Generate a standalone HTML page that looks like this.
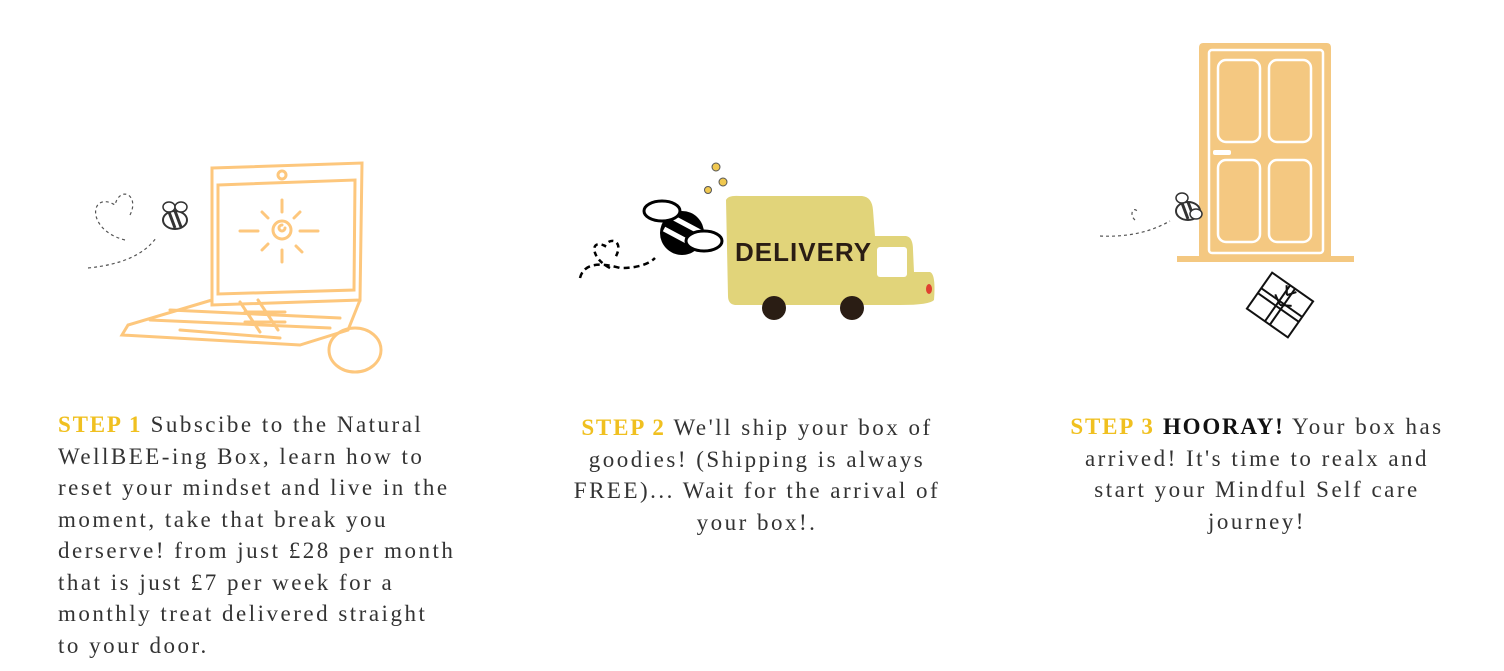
<!DOCTYPE html>
<html><head><meta charset="utf-8"><style>
body{margin:0;width:1504px;height:671px;background:#fff;position:relative;overflow:hidden;font-family:"Liberation Serif",serif;color:#333;}
.t{position:absolute;font-size:23px;line-height:31.5px;letter-spacing:2.5px;white-space:nowrap;}
.s{color:#f0c020;font-weight:bold;letter-spacing:1.8px;}
svg{position:absolute;left:0;top:0}
</style></head><body>
<svg width="1504" height="671" viewBox="0 0 1504 671">
<!-- laptop -->
<g fill="none" stroke="#fdc77d" stroke-width="3" stroke-linecap="round">
<path d="M212 168 L362 163 L360 300 L212 305 Z"/>
<path d="M218 185 L355 180 L354 290 L218 294 Z"/>
<circle cx="282" cy="175" r="4"/>
<circle cx="282" cy="230" r="9"/><path d="M285 228 a3 3 0 1 1 -3 -3"/>
<path d="M240 231 h18 M300 231 h18 M282 200 v12 M282 250 v12 M262 212 l6 6 M296 246 l6 6 M300 212 l-6 6 M262 250 l6 -6"/>
<path d="M212 300 L128 325 L122 335 L300 345 L348 330 L360 300"/>
<path d="M150 320 L330 328 M170 310 L340 318 M180 330 L280 338 M240 302 l20 30 M258 300 l20 30 M245 312 l40 0 M245 322 l40 0"/>
<ellipse cx="355" cy="350" rx="26" ry="22"/>
</g>
<path d="M88 268 q50 -5 68 -30" fill="none" stroke="#555" stroke-width="1.2" stroke-dasharray="3 3"/>
<path d="M125 240 c-40 -10 -35 -50 -10 -35 c5 -20 25 -10 15 10" fill="none" stroke="#555" stroke-width="1.2" stroke-dasharray="3 3"/>
<g transform="translate(175 215)"><ellipse cx="0" cy="5" rx="12" ry="9" fill="#fff" stroke="#333" stroke-width="2"/><path d="M-6 -3 l6 16 M0 -4 l6 16" stroke="#333" stroke-width="3"/><ellipse cx="-6" cy="-8" rx="6" ry="5" fill="#fff" stroke="#333" stroke-width="1.5"/><ellipse cx="6" cy="-8" rx="6" ry="5" fill="#fff" stroke="#333" stroke-width="1.5"/></g>
<!-- truck -->
<path d="M726 200 Q728 195 740 196 L862 196 Q872 197 873 210 L875 236 L906 236 Q913 237 913 250 L914 272 L930 272 Q936 274 934 300 Q930 305 900 305 L735 305 Q728 304 728 296 Z" fill="#e1d47a"/>
<rect x="877" y="247" width="30" height="30" rx="3" fill="#fff"/>
<ellipse cx="929" cy="289" rx="3" ry="5" fill="#e04030"/>
<circle cx="774" cy="308" r="12" fill="#2a1d14"/><circle cx="852" cy="308" r="12" fill="#2a1d14"/>
<text x="735" y="261" font-family="Liberation Sans,sans-serif" font-weight="bold" font-size="26" fill="#2a1d14" letter-spacing="1">DELIVERY</text>
<path d="M580 278 q5 -20 40 -10 q25 0 35 -10" fill="none" stroke="#000" stroke-width="2.5" stroke-dasharray="6 4"/>
<path d="M610 268 c-20 -10 -20 -30 -5 -22 c5 -10 20 -5 10 12" fill="none" stroke="#000" stroke-width="2.5" stroke-dasharray="5 4"/>
<g transform="translate(682 225)"><circle cx="0" cy="8" r="22" fill="#000"/><path d="M-18 4 l30 16 M-10 -8 l30 16" stroke="#fff" stroke-width="5"/><ellipse cx="-20" cy="-14" rx="18" ry="10" fill="#fff" stroke="#000" stroke-width="3"/><ellipse cx="22" cy="16" rx="18" ry="10" fill="#fff" stroke="#000" stroke-width="3"/></g>
<g fill="#f0c850" stroke="#555" stroke-width="1"><circle cx="716" cy="167" r="4"/><circle cx="723" cy="182" r="4"/><circle cx="708" cy="190" r="3.5"/></g>
<!-- door -->
<path d="M1203 43 L1327 43 Q1331 43 1331 48 L1331 258 L1199 258 L1199 48 Q1199 43 1203 43 Z" fill="#f4c881"/>
<rect x="1177" y="256" width="177" height="6" fill="#f4c881"/>
<g fill="none" stroke="#fff" stroke-width="2.5">
<rect x="1209" y="50" width="114" height="203" rx="3"/>
<rect x="1218" y="60" width="42" height="82" rx="8"/><rect x="1269" y="60" width="42" height="82" rx="8"/>
<rect x="1218" y="160" width="42" height="82" rx="8"/><rect x="1269" y="160" width="42" height="82" rx="8"/>
</g>
<rect x="1213" y="150" width="18" height="5" rx="2" fill="#fff"/>
<path d="M1100 236 q40 2 70 -15" fill="none" stroke="#555" stroke-width="1.2" stroke-dasharray="3 3"/>
<path d="M1135 220 c-6 -5 -2 -15 3 -8" fill="none" stroke="#555" stroke-width="1.2" stroke-dasharray="3 3"/>
<g transform="translate(1188 208)"><ellipse cx="0" cy="3" rx="12" ry="9" fill="#fff" stroke="#333" stroke-width="2"/><path d="M-6 -5 l6 16 M0 -6 l6 16" stroke="#333" stroke-width="3"/><ellipse cx="-6" cy="-10" rx="6" ry="5" fill="#fff" stroke="#333" stroke-width="1.5"/><ellipse cx="8" cy="6" rx="6" ry="5" fill="#fff" stroke="#333" stroke-width="1.5"/></g>
<g transform="translate(1280 305) rotate(35)" fill="#fff" stroke="#111" stroke-width="2"><rect x="-25" y="-22" width="50" height="44"/><path d="M-25 -3 h50 M-25 3 h50 M-3 -22 v44 M3 -22 v44"/><path d="M0 -12 l-6 -8 M0 -12 l6 -8 M0 0 l-10 -6 M0 0 l10 -6"/></g>
</svg>
<div class="t" style="left:58px;top:409px;"><span class="s">STEP 1</span> Subscibe to the Natural<br>WellBEE-ing Box, learn how to<br>reset your mindset and live in the<br>moment, take that break you<br>derserve! from just £28 per month<br>that is just £7 per week for a<br>monthly treat delivered straight<br>to your door.</div>
<div class="t" style="left:507px;top:412px;width:500px;text-align:center;"><span class="s">STEP 2</span> We'll ship your box of<br>goodies! (Shipping is always<br>FREE)... Wait for the arrival of<br>your box!.</div>
<div class="t" style="left:1007px;top:411px;width:500px;text-align:center;"><span class="s">STEP 3</span> <b style="color:#111;letter-spacing:1.8px">HOORAY!</b> Your box has<br>arrived! It's time to realx and<br>start your Mindful Self care<br>journey!</div>
</body></html>
